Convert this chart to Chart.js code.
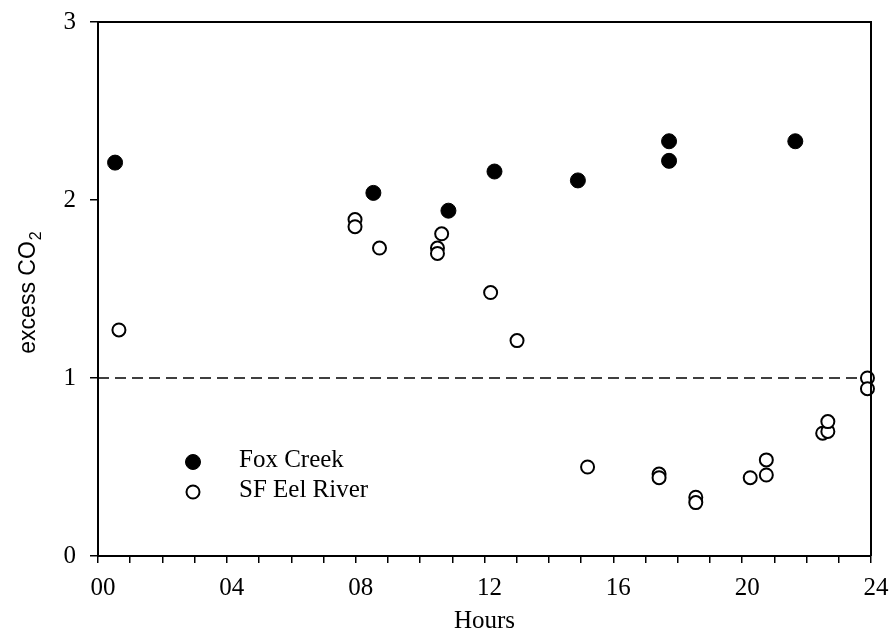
<!DOCTYPE html>
<html>
<head>
<meta charset="utf-8">
<script src="https://cdn.jsdelivr.net/npm/chart.js@4/dist/chart.umd.min.js"></script>
<style>
html,body{margin:0;padding:0;background:#fff;}
#wrap{width:892px;height:642px;}
</style>
</head>
<body>
<div id="wrap"><canvas id="c" width="892" height="642"></canvas></div>
<script>
// ---- data ----
const foxHours = [0.53, 8.55, 10.88, 12.31, 14.90, 17.73, 17.73, 21.65];
const foxCO2   = [2.21, 2.04, 1.94, 2.16, 2.11, 2.33, 2.22, 2.33];

const eelHours = [0.65, 7.98, 7.98, 8.74, 10.67, 10.54, 10.54, 12.19, 13.01, 15.20, 17.42, 17.42, 18.56, 18.56, 20.25, 20.75, 20.75, 22.50, 22.66, 22.66, 23.89, 23.89];
const eelCO2   = [1.27, 1.89, 1.85, 1.73, 1.81, 1.73, 1.70, 1.48, 1.21, 0.50, 0.46, 0.44, 0.33, 0.30, 0.44, 0.54, 0.455, 0.69, 0.70, 0.755, 1.00, 0.94];

const refLevel = 1;
const xRange = [0, 24];
const yRange = [0, 3];
const xLabelEvery = 4;
const seriesNames = ['Fox Creek', 'SF Eel River'];
const xTitle = 'Hours';
const yTitleMain = 'excess CO';
const yTitleSub = '2';

const toPts = (xs, ys) => xs.map((x, i) => ({x: x, y: ys[i]}));

const serif = "'Liberation Serif', 'Times New Roman', serif";
const sans = "'Liberation Sans', Arial, sans-serif";

const framePlugin = {
  id: 'frame',
  afterDraw(chart) {
    const {ctx, chartArea: a} = chart;
    ctx.save();
    ctx.strokeStyle = '#000';
    ctx.lineWidth = 2;
    ctx.beginPath();
    ctx.moveTo(a.left, a.top);
    ctx.lineTo(a.right, a.top);
    ctx.lineTo(a.right, a.bottom);
    ctx.stroke();
    ctx.restore();
  }
};

// y-axis title with a real subscript
const yTitlePlugin = {
  id: 'yTitle',
  afterDraw(chart) {
    const {ctx, chartArea: a} = chart;
    ctx.save();
    const mainFont = '23px ' + sans;
    const subFont = '16px ' + sans;
    ctx.font = mainFont;
    const w1 = ctx.measureText(yTitleMain).width;
    ctx.font = subFont;
    const w2 = ctx.measureText(yTitleSub).width;
    const total = w1 + w2;
    const cy = (a.top + a.bottom) / 2 + 4;
    ctx.translate(35, cy);
    ctx.rotate(-Math.PI / 2);
    ctx.fillStyle = '#000';
    ctx.textBaseline = 'alphabetic';
    ctx.textAlign = 'left';
    ctx.font = mainFont;
    ctx.fillText(yTitleMain, -total / 2, 0);
    ctx.font = subFont;
    ctx.fillText(yTitleSub, -total / 2 + w1 + 1, 6);
    ctx.restore();
  }
};

const legendPlugin = {
  id: 'insideLegend',
  afterDatasetsDraw(chart) {
    const {ctx, chartArea: a} = chart;
    const items = [chart.data.datasets[1], chart.data.datasets[2]];
    const mx = a.left + 95, tx = a.left + 141;
    const ys = [a.top + 440, a.top + 470];
    ctx.save();
    items.forEach((ds, i) => {
      ctx.beginPath();
      ctx.arc(mx, ys[i], ds.pointRadius, 0, Math.PI * 2);
      ctx.fillStyle = ds.pointBackgroundColor;
      ctx.fill();
      ctx.lineWidth = ds.pointBorderWidth;
      ctx.strokeStyle = ds.pointBorderColor;
      ctx.stroke();
      ctx.fillStyle = '#000';
      ctx.font = '25px ' + serif;
      ctx.textBaseline = 'middle';
      ctx.textAlign = 'left';
      ctx.fillText(ds.label, tx, ys[i] - 2);
    });
    ctx.restore();
  }
};

new Chart(document.getElementById('c'), {
  type: 'scatter',
  data: {
    datasets: [
      {
        label: 'ref',
        type: 'line',
        data: [{x: xRange[0], y: refLevel}, {x: xRange[1], y: refLevel}],
        borderColor: '#000',
        borderWidth: 1.5,
        borderDash: [11, 6],
        pointRadius: 0,
        fill: false,
        order: 3
      },
      {
        label: seriesNames[0],
        data: toPts(foxHours, foxCO2),
        pointRadius: 7.5,
        pointBackgroundColor: '#000',
        pointBorderColor: '#000',
        pointBorderWidth: 1,
        clip: false,
        order: 1
      },
      {
        label: seriesNames[1],
        data: toPts(eelHours, eelCO2),
        pointRadius: 6.5,
        pointBackgroundColor: '#fff',
        pointBorderColor: '#000',
        pointBorderWidth: 2,
        clip: false,
        order: 2
      }
    ]
  },
  options: {
    responsive: false,
    animation: false,
    events: [],
    layout: {padding: {left: 0, top: 22, right: 21, bottom: 0}},
    plugins: {legend: {display: false}, tooltip: {enabled: false}},
    scales: {
      x: {
        type: 'linear',
        min: xRange[0], max: xRange[1],
        afterFit(s) { s.height = 86; s.paddingLeft = 0; s.paddingRight = 0; },
        border: {display: true, color: '#000', width: 2},
        grid: {display: true, drawOnChartArea: false, drawTicks: true, tickLength: 7, color: '#000', lineWidth: 1.5},
        ticks: {
          stepSize: 1, autoSkip: false, maxRotation: 0, color: '#000',
          font: {family: serif, size: 25}, padding: 10, labelOffset: 5,
          callback: v => (v % xLabelEvery === 0 ? String(v).padStart(2, '0') : '')
        },
        title: {display: true, text: xTitle, color: '#000', font: {family: serif, size: 25}, padding: {top: 0, bottom: 6}}
      },
      y: {
        type: 'linear',
        min: yRange[0], max: yRange[1],
        afterFit(s) { s.width = 98; s.paddingTop = 0; s.paddingBottom = 0; },
        border: {display: true, color: '#000', width: 2},
        grid: {display: true, drawOnChartArea: false, drawTicks: true, tickLength: 8, color: '#000', lineWidth: 1.5},
        ticks: {
          stepSize: 1, color: '#000', padding: 14,
          font: {family: serif, size: 25},
          callback: v => String(v)
        },
        title: {display: false}
      }
    }
  },
  plugins: [framePlugin, yTitlePlugin, legendPlugin]
});
</script>
</body>
</html>
